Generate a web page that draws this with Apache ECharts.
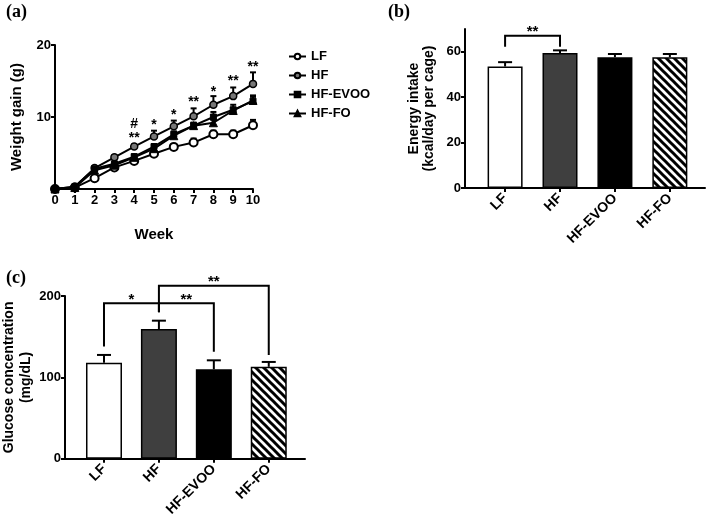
<!DOCTYPE html>
<html><head><meta charset="utf-8">
<script src="https://cdn.jsdelivr.net/npm/echarts@6/dist/echarts.min.js"></script>
<style>html,body{margin:0;padding:0;background:#fff}#c{width:708px;height:519px}</style>
</head><body><div id="c"></div>
<script>
// ---------- DATA ----------
const weeks = [0,1,2,3,4,5,6,7,8,9,10];
const weekTicks = [0,1,2,3,4,5,6,7,8,9,10];
const lfGain   = [0,0.2,1.5,3.0,3.9,4.9,5.85,6.45,7.6,7.6,8.85];
const hfGain   = [0,0.3,2.9,4.4,5.9,7.3,8.7,10.1,11.7,12.9,14.6];
const evooGain = [0,0.3,2.8,3.5,4.5,5.9,7.6,8.8,10.0,11.0,12.2];
const foGain   = [0,0.2,2.6,3.3,4.4,5.6,7.4,8.8,9.2,10.9,12.3];
const lfErr    = [0,0.1,0.2,0.2,0.3,0.3,0.4,0.55,0.5,0.5,0.75];
const hfErr    = [0,0.1,0.3,0.3,0.3,0.8,0.8,1.1,1.2,1.2,1.6];
const evooErr  = [0,0.1,0.2,0.2,0.3,0.3,0.4,0.4,0.7,0.7,0.8];
const foErr    = [0,0.1,0.2,0.2,0.3,0.3,0.3,0.4,0.4,0.4,0.5];
const sigWeek  = [4,4,5,6,7,8,9,10];
const sigValue = [7.0,9.0,8.9,10.3,12.0,13.5,15.0,16.9];
const sigText  = ['**','#','*','*','**','*','**','**'];

const groups = ['LF','HF','HF-EVOO','HF-FO'];
const energyMean = [53.5,59.4,57.6,57.6];
const energyErr  = [1.9,1.2,1.4,1.4];
const glucoseMean = [118,159.5,110,113];
const glucoseErr  = [9.6,10.2,11,6];
// brackets: [x1, x2, topY, leftLegY, rightLegY]
const energyBrackets = [[0,1,67,62.2,62.2]];
const energyBracketText = ['**'];
const glucoseBrackets = [[0,1,191,138,180],[1,2,191,180,131.6],[1,3,212.6,191,127.6]];
const glucoseBracketText = ['*','**','**'];

// ---------- STYLE ----------
const F = 'Liberation Sans, Arial, sans-serif';
const barColors = ['#ffffff','#3f3f3f','#000000',null];
function hatch(){
  const s=8, c=document.createElement('canvas'); c.width=s; c.height=s;
  const g=c.getContext('2d'); g.fillStyle='#fff'; g.fillRect(0,0,s,s);
  g.strokeStyle='#000'; g.lineWidth=3; g.lineCap='square';
  for(const k of [-s,0,s]){ g.beginPath(); g.moveTo(k,0); g.lineTo(k+s,s); g.stroke(); }
  return {image:c, repeat:'repeat'};
}
const hatchFill = hatch();

const axisLine = {show:true, onZero:false, lineStyle:{color:'#000', width:2}};
const axisTick = {show:true, length:4, lineStyle:{color:'#000', width:2}};
const lbl = {color:'#000', fontFamily:F, fontWeight:'bold', fontSize:13};

function errSeries(xi, yi, xs, ys, es, cap){
  return {type:'custom', xAxisIndex:xi, yAxisIndex:yi, z:3, silent:true,
    data: xs.map((x,i)=>[x, ys[i], es[i]]),
    renderItem:(p,api)=>{
      const a=api.coord([api.value(0),api.value(1)]), b=api.coord([api.value(0),api.value(1)+api.value(2)]);
      const st={stroke:'#000', lineWidth:2};
      return {type:'group', children:[
        {type:'line', shape:{x1:a[0],y1:a[1],x2:b[0],y2:b[1]}, style:st},
        {type:'line', shape:{x1:b[0]-cap,y1:b[1],x2:b[0]+cap,y2:b[1]}, style:st}]};
    }};
}
function bracketSeries(xi, yi, br, txt){
  return {type:'custom', xAxisIndex:xi, yAxisIndex:yi, z:4, silent:true, clip:false,
    data: br,
    renderItem:(p,api)=>{
      const x1=api.value(0), x2=api.value(1), t=api.value(2), l=api.value(3), r=api.value(4);
      const pts=[api.coord([x1,l]),api.coord([x1,t]),api.coord([x2,t]),api.coord([x2,r])];
      const mid=api.coord([(x1+x2)/2,t]);
      return {type:'group', children:[
        {type:'polyline', shape:{points:pts}, style:{stroke:'#000', lineWidth:2, fill:null}},
        {type:'text', x:mid[0], y:mid[1]+4, style:{text:txt[p.dataIndex], fill:'#000', font:'bold 15px '+F, textAlign:'center', textVerticalAlign:'bottom'}}]};
    }};
}

const chart = echarts.init(document.getElementById('c'), null, {renderer:'canvas'});
const lineCommon = {type:'line', xAxisIndex:0, yAxisIndex:0, z:5, lineStyle:{color:'#000', width:2}};
const serif = 'Liberation Serif, Times New Roman, serif';
chart.setOption({
  animation:false,
  backgroundColor:'#fff',
  title:[
    {text:'(a)', left:1, top:-2, textStyle:{fontFamily:serif, fontWeight:'bold', fontSize:18, color:'#000'}},
    {text:'(b)', left:383, top:-2, textStyle:{fontFamily:serif, fontWeight:'bold', fontSize:18, color:'#000'}},
    {text:'(c)', left:1, top:264, textStyle:{fontFamily:serif, fontWeight:'bold', fontSize:18, color:'#000'}}
  ],
  legend:{left:283, top:45, orient:'vertical', itemGap:6, itemWidth:17, itemHeight:7,
    textStyle:{fontFamily:F, fontWeight:'bold', fontSize:13, color:'#000'},
    data:['LF','HF','HF-EVOO','HF-FO']},
  grid:[
    {left:55, top:45, width:198, height:144},
    {left:465, top:29, width:240, height:159},
    {left:59, top:296, width:246, height:163}
  ],
  xAxis:[
    {gridIndex:0, type:'value', min:0, max:10, interval:1, axisLine, axisTick, splitLine:{show:false},
     axisLabel:{...lbl, margin:5, customValues:weekTicks},
     name:'Week', nameLocation:'middle', nameGap:38, nameTextStyle:{fontFamily:F, fontWeight:'bold', fontSize:15, color:'#000'}},
    {gridIndex:1, type:'value', min:-0.73, max:3.64, axisLine, axisTick:{...axisTick, customValues:[0,1,2,3]}, splitLine:{show:false},
     axisLabel:{...lbl, fontSize:14, rotate:45, margin:8, customValues:[0,1,2,3], formatter:v=>groups[Math.round(v)]}},
    {gridIndex:2, type:'value', min:-0.71, max:3.66, axisLine, axisTick:{...axisTick, customValues:[0,1,2,3]}, splitLine:{show:false},
     axisLabel:{...lbl, fontSize:14, rotate:45, margin:8, customValues:[0,1,2,3], formatter:v=>groups[Math.round(v)]}}
  ],
  yAxis:[
    {gridIndex:0, type:'value', min:0, max:20, interval:10, axisLine, axisTick, splitLine:{show:false},
     axisLabel:{...lbl, margin:4, formatter:v=>v===0?'':v},
     name:'Weight gain (g)', nameLocation:'middle', nameGap:31, nameTextStyle:{fontFamily:F, fontWeight:'bold', fontSize:15, color:'#000'}},
    {gridIndex:1, type:'value', min:0, max:70, axisLine, axisTick:{...axisTick, customValues:[0,20,40,60]}, splitLine:{show:false},
     axisLabel:{...lbl, margin:4, customValues:[0,20,40,60]},
     name:'Energy intake\n(kcal/day per cage)', nameLocation:'middle', nameGap:28, nameTextStyle:{fontFamily:F, fontWeight:'bold', fontSize:14, lineHeight:15, color:'#000'}},
    {gridIndex:2, type:'value', min:0, max:200, interval:100, axisLine, axisTick, splitLine:{show:false},
     axisLabel:{...lbl, margin:4},
     name:'Glucose concentration\n(mg/dL)', nameLocation:'middle', nameGap:30, nameTextStyle:{fontFamily:F, fontWeight:'bold', fontSize:14, lineHeight:17, color:'#000'}}
  ],
  series:[
    errSeries(0,0,weeks,lfGain,lfErr,3),
    errSeries(0,0,weeks,hfGain,hfErr,3),
    errSeries(0,0,weeks,evooGain,evooErr,3),
    errSeries(0,0,weeks,foGain,foErr,3),
    {...lineCommon, name:'LF', data:weeks.map((w,i)=>[w,lfGain[i]]), symbol:'circle', symbolSize:8,
      itemStyle:{color:'#fff', borderColor:'#000', borderWidth:2}},
    {...lineCommon, name:'HF', data:weeks.map((w,i)=>[w,hfGain[i]]), symbol:'circle', symbolSize:7,
      itemStyle:{color:'#777', borderColor:'#000', borderWidth:1.5}},
    {...lineCommon, name:'HF-EVOO', data:weeks.map((w,i)=>[w,evooGain[i]]), symbol:'rect', symbolSize:6,
      itemStyle:{color:'#000', borderColor:'#000', borderWidth:1}},
    {...lineCommon, name:'HF-FO', data:weeks.map((w,i)=>[w,foGain[i]]), symbol:'triangle', symbolSize:8,
      itemStyle:{color:'#000', borderColor:'#000', borderWidth:1}},
    {type:'custom', xAxisIndex:0, yAxisIndex:0, z:6, silent:true, clip:false,
      data: sigWeek.map((w,i)=>[w,sigValue[i]]),
      renderItem:(p,api)=>{ const c=api.coord([api.value(0),api.value(1)]);
        return {type:'text', x:c[0], y:c[1], style:{text:sigText[p.dataIndex], fill:'#000', font:'bold 14px '+F, textAlign:'center', textVerticalAlign:'middle'}}; }},
    // panel b
    {type:'bar', xAxisIndex:1, yAxisIndex:1, barWidth:35, z:2,
      data: energyMean.map((v,i)=>({value:[i,v], itemStyle:{color: barColors[i]||hatchFill, borderColor:'#000', borderWidth:1.5}}))},
    errSeries(1,1,[0,1,2,3],energyMean,energyErr,7),
    bracketSeries(1,1,energyBrackets,energyBracketText),
    // panel c
    {type:'bar', xAxisIndex:2, yAxisIndex:2, barWidth:36, z:2,
      data: glucoseMean.map((v,i)=>({value:[i,v], itemStyle:{color: barColors[i]||hatchFill, borderColor:'#000', borderWidth:1.5}}))},
    errSeries(2,2,[0,1,2,3],glucoseMean,glucoseErr,7),
    bracketSeries(2,2,glucoseBrackets,glucoseBracketText)
  ]
});
</script></body></html>
